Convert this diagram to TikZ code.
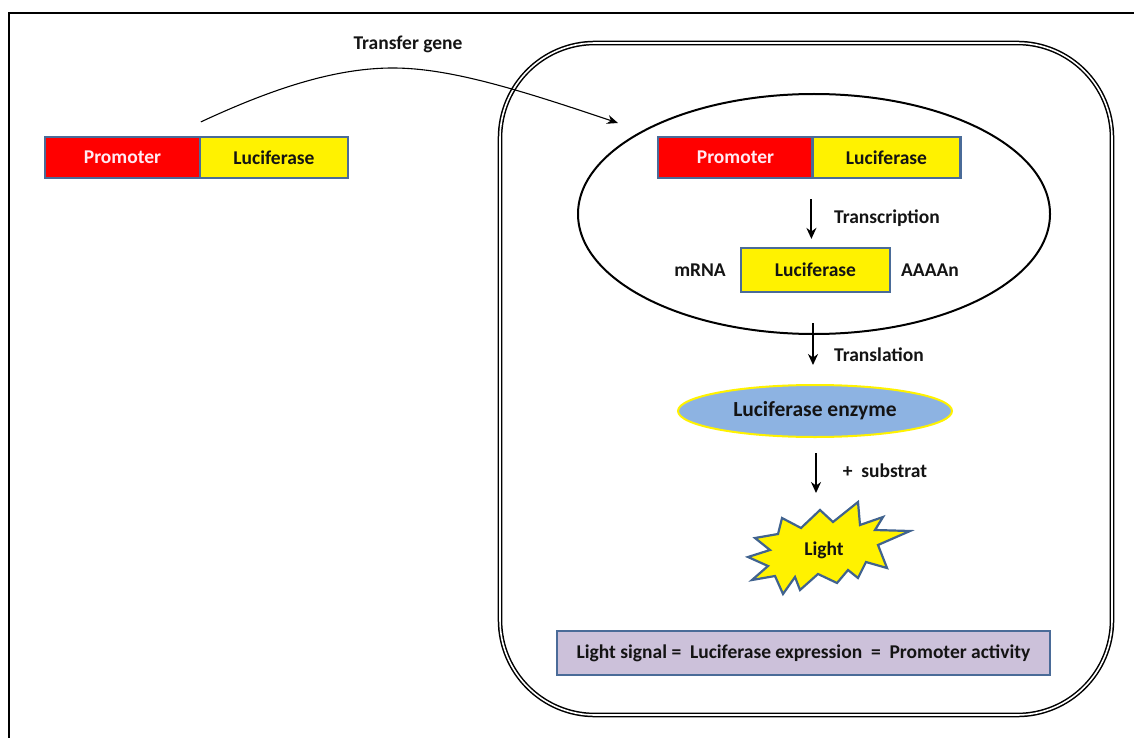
\documentclass[tikz,border=0pt]{standalone}
\usepackage{fontspec}
\setmainfont{Carlito}
\usetikzlibrary{arrows.meta,calc,shapes.geometric}
\definecolor{boxblue}{HTML}{4A6B98}
\definecolor{lav}{HTML}{CCC1DA}
\definecolor{enz}{HTML}{8DB3E2}
\definecolor{starb}{HTML}{41638F}
\definecolor{promtext}{HTML}{FFEAF2}
\definecolor{ink}{HTML}{141414}
\tikzset{
  gene/.style={draw=boxblue, line width=2.2pt, minimum height=41pt, inner sep=0pt,
               font=\fontsize{19.5}{21}\selectfont\bfseries},
  prom/.style={gene, fill=red, text=promtext, minimum width=155pt},
  luc/.style={gene, fill=yellow, text=ink, minimum width=148pt},
  lbl/.style={font=\fontsize{19.5}{21}\selectfont\bfseries, text=ink, inner sep=0pt},
  arr/.style={-{Stealth[length=11pt,width=10pt]}, line width=2pt},
  thinarr/.style={-{Stealth[length=11pt,width=9pt]}, line width=1.1pt},
  cell/.style={double, double distance=1.6pt, line width=1.5pt, rounded corners=95pt},
}
\begin{document}
\begin{tikzpicture}[x=1pt,y=-1pt]
\useasboundingbox (0,0) rectangle (1134,738);
% outer frame
\draw[line width=1.3pt] (9,738) -- (9,13) -- (1134,13);
% cell
\draw[cell] (500,43) rectangle (1112,715);
% nucleus
\node[ellipse, draw, line width=2pt, minimum width=472pt, minimum height=240pt, inner sep=0pt] (nuc) at (814,214) {};
% left gene
\node[prom] (pr1) at (122.5,157.5) {Promoter};
\node[luc] (lu1) at (274,157.5) {Luciferase};
% inner gene
\node[prom] (pr2) at (735.5,157.5) {Promoter};
\node[luc] (lu2) at (886.5,157.5) {Luciferase};
% transfer
\node[lbl] (tg) at (408,44) {Transfer gene};
\coordinate (tgend) at (618,123);
\draw[thinarr] ($(lu1.north west)+(2,-14)$) .. controls (280,85) and (340,68) .. (393,68)
   .. controls (450,68) and (520,90) .. (tgend);
% mRNA
\node[luc, minimum width=149pt, minimum height=44pt] (mrna) at (815.5,270) {Luciferase};
\node[lbl] (mr) at (700,270) {mRNA};
\node[lbl] (aaa) at (930,270) {AAAAn};
\draw[arr] ($(lu2.south west)+(0,20)$) -- ($(lu2.south west |- mrna.north)+(0,-8)$);
\node[lbl] (tc) at (887,218) {Transcription};
% translation
\node[ellipse, draw=yellow, line width=2pt, fill=enz, minimum width=274pt, minimum height=52pt,
      lbl, font=\fontsize{21.5}{23}\selectfont\bfseries] (enz) at (815,411) {Luciferase enzyme};
\draw[arr] ($(nuc.south)+(-1,-12)$) -- ($(enz.north)+(-2,-19)$);
\node[lbl] (tl) at (879,355) {Translation};
% substrat
\coordinate (lighttop) at (816,493);
\draw[arr] ($(enz.south)+(1,15)$) -- (lighttop);
\node[lbl] (sb) at (885,471) {+ \ substrat};
% light starburst
\draw[draw=starb, fill=yellow, line width=2.2pt, line join=miter]
  (748,557) -- (770,550) -- (755,538) -- (778,534) -- (782,518) -- (801,528)
  -- (820,510) -- (833,522) -- (858,502) -- (860,525) -- (883,517) -- (875,530)
  -- (910,531) -- (878,545) -- (887,568) -- (866,562) -- (858,578) -- (848,570)
  -- (837,583) -- (818,574) -- (800,590) -- (795,577) -- (783,594) -- (775,576)
  -- (752,580) -- (768,566) -- cycle;
\node[lbl] (light) at (824,550) {Light};
% equation box
\node[draw=boxblue, fill=lav, line width=2.2pt, minimum width=493pt, minimum height=44pt, lbl]
  (eq) at (803.5,653) {Light signal =\ \ Luciferase expression\ \ =\ \ Promoter activity};
\end{tikzpicture}
\end{document}
